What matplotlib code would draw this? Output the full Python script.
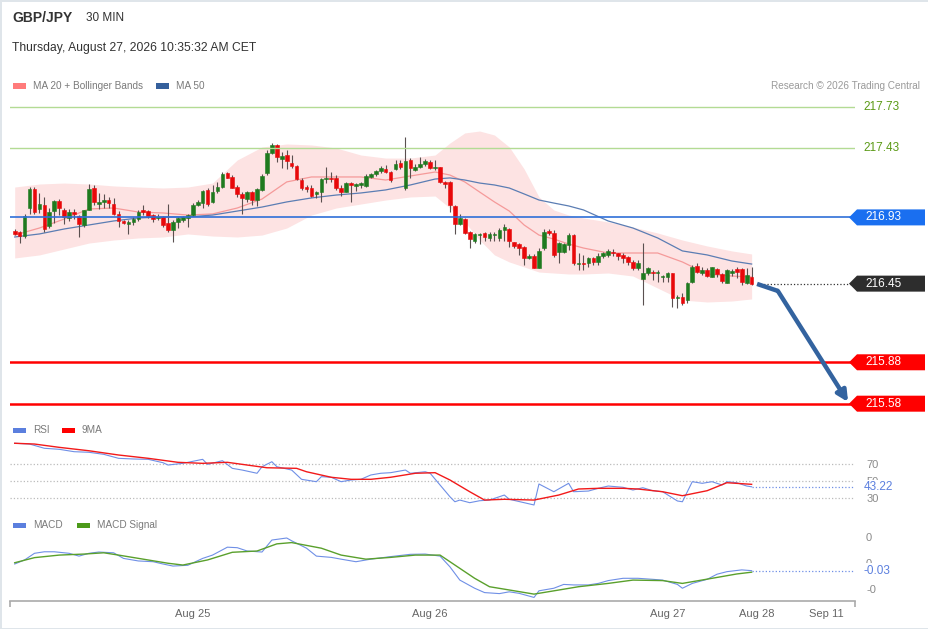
import matplotlib
matplotlib.use('Agg')
import matplotlib.pyplot as plt
from matplotlib.patches import Polygon, Rectangle
from matplotlib.transforms import IdentityTransform
from matplotlib.ticker import FormatStrFormatter
import numpy as np

plt.rcParams['font.family'] = ['Liberation Sans', 'DejaVu Sans']

# ---- candles (30 min GBP/JPY) ----
opens = np.array([
    216.831, 216.824, 216.795, 216.998, 217.136, 216.991, 217.020, 216.868, 216.976, 217.049,
    216.984, 216.926, 216.969, 216.940, 216.875, 216.984, 217.143, 217.027, 217.042, 217.056,
    217.027, 216.955, 216.904, 216.882, 216.897, 216.918, 216.984, 216.976, 216.947, 216.926,
    216.933, 216.889, 216.839, 216.897, 216.911, 216.926, 216.947, 217.020, 217.034, 217.129,
    217.042, 217.121, 217.150, 217.252, 217.223, 217.150, 217.100, 217.063, 217.114, 217.056,
    217.129, 217.252, 217.397, 217.455, 217.353, 217.382, 217.324, 217.302, 217.201, 217.150,
    217.143, 217.100, 217.114, 217.208, 217.216, 217.216, 217.143, 217.114, 217.179, 217.158,
    217.165, 217.158, 217.223, 217.244, 217.266, 217.281, 217.259, 217.281, 217.324, 217.143,
    217.346, 217.273, 217.295, 217.317, 217.331, 217.288, 217.295, 217.187, 217.187, 217.013,
    216.882, 216.918, 216.824, 216.759, 216.802, 216.817, 216.781, 216.802, 216.781, 216.839,
    216.846, 216.752, 216.737, 216.716, 216.636, 216.650, 216.563, 216.708, 216.831, 216.817,
    216.679, 216.679, 216.730, 216.802, 216.592, 216.600, 216.600, 216.636, 216.607, 216.650,
    216.658, 216.679, 216.672, 216.658, 216.643, 216.607, 216.563, 216.484, 216.527, 216.534,
    216.527, 216.498, 216.498, 216.527, 216.346, 216.353, 216.331, 216.462, 216.578, 216.527,
    216.549, 216.498, 216.556, 216.520, 216.455, 216.527, 216.556, 216.556, 216.455, 216.498])
highs = np.array([
    216.846, 216.831, 216.955, 217.150, 217.150, 217.107, 217.078, 216.998, 217.056, 217.063,
    216.998, 216.991, 216.991, 216.947, 216.984, 217.172, 217.165, 217.107, 217.100, 217.078,
    217.071, 216.976, 216.911, 216.911, 216.933, 216.984, 217.020, 216.984, 216.955, 216.955,
    216.940, 217.027, 216.911, 216.933, 216.940, 216.955, 217.034, 217.056, 217.129, 217.143,
    217.165, 217.187, 217.259, 217.259, 217.237, 217.165, 217.114, 217.121, 217.121, 217.143,
    217.244, 217.418, 217.469, 217.462, 217.404, 217.418, 217.382, 217.310, 217.216, 217.165,
    217.165, 217.121, 217.216, 217.295, 217.259, 217.237, 217.165, 217.187, 217.187, 217.179,
    217.187, 217.244, 217.252, 217.273, 217.302, 217.310, 217.266, 217.346, 217.346, 217.513,
    217.360, 217.317, 217.368, 217.353, 217.346, 217.346, 217.295, 217.194, 217.194, 217.020,
    216.955, 216.926, 216.831, 216.817, 216.817, 216.824, 216.824, 216.824, 216.853, 216.882,
    216.853, 216.752, 216.744, 216.723, 216.665, 216.665, 216.708, 216.846, 216.846, 216.839,
    216.752, 216.744, 216.817, 216.810, 216.672, 216.658, 216.643, 216.643, 216.672, 216.679,
    216.701, 216.701, 216.672, 216.672, 216.650, 216.621, 216.621, 216.744, 216.571, 216.549,
    216.549, 216.513, 216.534, 216.527, 216.368, 216.382, 216.462, 216.585, 216.600, 216.571,
    216.563, 216.571, 216.563, 216.527, 216.556, 216.556, 216.571, 216.563, 216.563, 216.571])
lows = np.array([
    216.802, 216.744, 216.781, 216.955, 216.955, 216.962, 216.824, 216.853, 216.889, 216.947,
    216.882, 216.904, 216.918, 216.788, 216.860, 216.984, 217.020, 216.991, 216.998, 216.998,
    216.947, 216.860, 216.882, 216.810, 216.875, 216.904, 216.947, 216.926, 216.897, 216.911,
    216.860, 216.824, 216.752, 216.853, 216.897, 216.860, 216.940, 217.013, 216.998, 217.013,
    217.034, 217.107, 217.143, 217.216, 217.143, 217.078, 216.955, 217.042, 217.020, 217.013,
    217.121, 217.237, 217.389, 217.331, 217.288, 217.281, 217.288, 217.201, 217.129, 217.114,
    217.078, 217.071, 217.042, 217.179, 217.187, 217.129, 217.085, 217.114, 217.042, 217.121,
    217.143, 217.150, 217.216, 217.230, 217.252, 217.252, 217.187, 217.273, 217.281, 217.129,
    217.216, 217.266, 217.288, 217.302, 217.281, 217.273, 217.179, 217.143, 216.969, 216.810,
    216.875, 216.810, 216.708, 216.744, 216.737, 216.759, 216.759, 216.759, 216.759, 216.759,
    216.716, 216.708, 216.658, 216.585, 216.629, 216.563, 216.563, 216.694, 216.802, 216.643,
    216.600, 216.672, 216.694, 216.585, 216.549, 216.549, 216.571, 216.585, 216.585, 216.636,
    216.643, 216.650, 216.621, 216.600, 216.585, 216.549, 216.549, 216.295, 216.513, 216.476,
    216.462, 216.462, 216.462, 216.281, 216.273, 216.295, 216.310, 216.455, 216.527, 216.513,
    216.498, 216.498, 216.498, 216.455, 216.455, 216.505, 216.491, 216.440, 216.448, 216.440])
closes = np.array([
    216.810, 216.795, 216.940, 217.136, 216.969, 217.027, 216.846, 216.969, 217.049, 216.998,
    216.933, 216.969, 216.955, 216.882, 216.984, 217.136, 217.042, 217.042, 217.056, 217.034,
    216.955, 216.904, 216.889, 216.897, 216.918, 216.969, 216.969, 216.940, 216.918, 216.933,
    216.875, 216.839, 216.897, 216.926, 216.933, 216.947, 217.020, 217.042, 217.121, 217.027,
    217.114, 217.150, 217.244, 217.216, 217.143, 217.100, 217.071, 217.114, 217.056, 217.136,
    217.230, 217.397, 217.455, 217.368, 217.375, 217.339, 217.302, 217.208, 217.143, 217.136,
    217.085, 217.114, 217.208, 217.216, 217.208, 217.143, 217.114, 217.179, 217.165, 217.172,
    217.179, 217.230, 217.244, 217.266, 217.288, 217.259, 217.201, 217.317, 217.295, 217.339,
    217.288, 217.295, 217.317, 217.339, 217.288, 217.295, 217.187, 217.172, 217.020, 216.882,
    216.926, 216.817, 216.773, 216.810, 216.810, 216.788, 216.810, 216.810, 216.839, 216.860,
    216.759, 216.723, 216.708, 216.636, 216.650, 216.563, 216.687, 216.824, 216.817, 216.658,
    216.744, 216.737, 216.802, 216.600, 216.600, 216.592, 216.636, 216.607, 216.650, 216.672,
    216.687, 216.672, 216.650, 216.636, 216.607, 216.563, 216.600, 216.527, 216.563, 216.527,
    216.534, 216.505, 216.527, 216.346, 216.353, 216.310, 216.455, 216.571, 216.534, 216.549,
    216.505, 216.571, 216.520, 216.469, 216.549, 216.542, 216.534, 216.462, 216.513, 216.448])

# ---- MA 20, Bollinger bands, MA 50 (read at these candle numbers) ----
band_idx = [0, 5, 10, 15, 20, 25, 30, 35, 40, 45, 50, 55, 60, 65, 70, 75, 80, 85, 88, 91,
            94, 97, 100, 103, 106, 109, 112, 115, 120, 125, 130, 135, 140, 145, 149]
ma20 = [216.802, 216.853, 216.918, 216.991, 216.998, 216.969, 216.962, 216.947, 216.955, 216.998,
        217.063, 217.187, 217.223, 217.223, 217.223, 217.201, 217.230, 217.259, 217.237, 217.187,
        217.114, 217.042, 216.976, 216.875, 216.802, 216.773, 216.737, 216.708, 216.672, 216.672,
        216.672, 216.607, 216.520, 216.505, 216.498]
ma50 = [216.788, 216.810, 216.846, 216.875, 216.904, 216.926, 216.933, 216.933, 216.947, 216.976,
        217.005, 217.042, 217.071, 217.092, 217.107, 217.129, 217.165, 217.208, 217.216, 217.201,
        217.179, 217.165, 217.143, 217.100, 217.056, 217.034, 217.013, 216.984, 216.904, 216.853,
        216.781, 216.687, 216.658, 216.614, 216.592]
bb_upper = [217.150, 217.172, 217.179, 217.172, 217.158, 217.150, 217.143, 217.150, 217.179, 217.346,
            217.440, 217.462, 217.455, 217.433, 217.382, 217.360, 217.360, 217.382, 217.469, 217.542,
            217.556, 217.527, 217.440, 217.281, 217.078, 216.984, 216.947, 216.926, 216.897, 216.860,
            216.817, 216.766, 216.723, 216.687, 216.665]
bb_lower = [216.636, 216.658, 216.701, 216.744, 216.766, 216.781, 216.788, 216.810, 216.795, 216.788,
            216.802, 216.853, 216.947, 216.998, 217.027, 217.056, 217.078, 217.085, 216.998, 216.897,
            216.766, 216.658, 216.607, 216.571, 216.534, 216.527, 216.520, 216.520, 216.527, 216.505,
            216.418, 216.331, 216.317, 216.324, 216.339]

# ---- levels ----
resistances = [217.73, 217.43]
pivot = 216.93
last_price = 216.45
supports = [215.88, 215.58]
forecast_idx = [150.1, 154.3, 168.5]
forecast_price = [216.448, 216.397, 215.592]

# ---- RSI and its 9 period average ----
rsi_idx = [0, 3, 6, 9, 12, 15, 18, 21, 24, 27, 30, 31, 34, 38, 39, 42, 44, 46, 49, 50,
           52, 53, 56, 58, 61, 62, 64, 66, 68, 70, 72, 74, 76, 79, 80, 83, 84, 86, 88, 89,
           90, 92, 94, 96, 99, 100, 103, 105, 106, 109, 112, 113, 116, 118, 120, 123, 125, 127, 129, 131,
           134, 135, 137, 139, 141, 143, 144, 146, 148, 149]
rsi = [94.4, 93.5, 88.5, 87.3, 84.5, 83.8, 81.4, 76.7, 75.9, 75.5, 71.5, 68.8, 70.8, 75.5, 69.6, 73.9, 64.9, 62.9, 59.1, 66.8,
       72.7, 66.8, 62.9, 52.0, 49.2, 55.1, 54.4, 49.2, 51.2, 52.0, 57.1, 59.1, 59.8, 62.9, 59.1, 60.9, 59.1, 45.3, 31.5, 25.6,
       27.6, 24.5, 26.8, 27.6, 33.5, 28.5, 24.5, 21.8, 46.5, 37.4, 47.3, 37.4, 38.2, 41.4, 44.1, 42.6, 39.4, 42.1, 38.6, 37.4,
       26.5, 25.6, 49.2, 47.3, 49.2, 45.3, 49.2, 48.0, 44.1, 43.22]
rsi_ma_idx = [0, 4, 9, 15, 21, 27, 33, 38, 43, 47, 51, 57, 59, 64, 68, 72, 76, 81, 85, 88,
              92, 95, 99, 105, 110, 114, 118, 123, 126, 131, 135, 140, 144, 149]
rsi_ma = [94.4, 93.5, 89.6, 85.6, 80.6, 76.7, 72.0, 70.8, 72.0, 68.8, 65.6, 64.9, 60.9, 54.4, 52.0, 52.0, 54.4, 59.1, 59.8, 51.2,
          37.4, 27.6, 28.5, 27.6, 33.5, 40.6, 41.4, 41.4, 40.6, 37.4, 32.7, 38.6, 48.0, 46.1]

# ---- MACD ----
macd_idx = [0, 2, 4, 6, 8, 11, 13, 15, 17, 20, 22, 25, 28, 30, 32, 35, 38, 40, 43, 45,
            47, 50, 52, 55, 56, 59, 61, 64, 66, 69, 72, 76, 80, 83, 86, 88, 90, 93, 95, 98,
            100, 102, 105, 106, 109, 111, 113, 116, 118, 120, 123, 126, 129, 131, 134, 135, 137, 140, 142, 144,
            147, 149]
macd = [-0.004, 0.012, 0.038, 0.044, 0.044, 0.038, 0.027, 0.038, 0.043, 0.040,
        0.018, 0.008, 0.005, -0.004, -0.012, -0.009, 0.018, 0.031, 0.062, 0.060,
        0.047, 0.043, 0.090, 0.098, 0.087, 0.058, 0.027, 0.022, 0.015, 0.005,
        0.015, 0.025, 0.034, 0.035, 0.027, -0.015, -0.067, -0.099, -0.116, -0.120,
        -0.113, -0.119, -0.135, -0.109, -0.099, -0.084, -0.086, -0.086, -0.080, -0.069,
        -0.060, -0.060, -0.064, -0.067, -0.084, -0.099, -0.080, -0.064, -0.044, -0.034,
        -0.027, -0.030]
signal_idx = [0, 4, 9, 14, 18, 21, 26, 31, 34, 39, 44, 49, 53, 56, 62, 66, 71, 76, 81, 86,
              89, 93, 96, 101, 105, 110, 114, 120, 125, 131, 135, 141, 146, 149]
signal = [0.001, 0.021, 0.031, 0.035, 0.040, 0.031, 0.015, -0.001, -0.008, 0.012,
          0.042, 0.047, 0.075, 0.080, 0.058, 0.031, 0.015, 0.022, 0.031, 0.031,
          -0.008, -0.060, -0.093, -0.109, -0.122, -0.106, -0.093, -0.080, -0.067, -0.069,
          -0.080, -0.060, -0.043, -0.036]

date_labels = ['Aug 25', 'Aug 26', 'Aug 27', 'Aug 28', 'Sep 11']
date_pos = [36, 84, 132, 150, 164]

# ---- layout helpers (pixel positions on a 929x629 canvas) ----
W, H = 929, 629


def fx(x):
    return x / W


def fy(y):
    return 1 - y / H


def axes_at(fig, x0, y0, x1, y1):
    a = fig.add_axes([fx(x0), fy(y1), (x1 - x0) / W, (y1 - y0) / H])
    for s in a.spines.values():
        s.set_visible(False)
    a.set_xticks([])
    a.set_yticks([])
    a.patch.set_alpha(0)
    return a


XLIM = (-0.95, 169.9)
GREEN_C = '#1f7a1f'
RED_C = '#e8080a'
GRAY_T = '#8a8a8a'

fig = plt.figure(figsize=(9.29, 6.29), dpi=100)
fig.patch.set_facecolor('white')
fig.patch.set_edgecolor('#dfe5ea')
fig.patch.set_linewidth(2)

# header
fig.text(fx(12), fy(18), 'GBP/JPY', fontsize=10, fontweight='bold', color='#333333', va='center')
fig.text(fx(86), fy(18), '30 MIN', fontsize=8.5, color='#333333', va='center')
fig.text(fx(12), fy(48), 'Thursday, August 27, 2026 10:35:32 AM CET', fontsize=8.7, color='#333333', va='center')


def legend_item(x, y, color, label):
    fig.patches.append(Rectangle((fx(x), fy(y + 2.5)), 13 / W, 5 / H, transform=fig.transFigure,
                                 color=color, lw=0))
    fig.text(fx(x + 20), fy(y), label, fontsize=7.2, color='#7a7a7a', va='center')


legend_item(13, 86, '#ff7b7b', 'MA 20 + Bollinger Bands')
legend_item(156, 86, '#35609c', 'MA 50')
fig.text(fx(920), fy(86), 'Research \u00a9 2026 Trading Central', fontsize=7.2, color='#9a9a9a',
         va='center', ha='right')

# ---- price panel ----
ax = axes_at(fig, 10, 95, 855, 415)
ax.set_xlim(*XLIM)
ax.set_ylim(215.498, 217.817)

ax.fill_between(band_idx, bb_lower, bb_upper, color='#fde3e3', lw=0, zorder=0)
ax.plot(band_idx, ma20, color='#f59a9a', lw=0.9, zorder=1)
ax.plot(band_idx, ma50, color='#5b7db3', lw=0.9, zorder=1)

idx = np.arange(len(closes))
up = closes >= opens
ax.vlines(idx, lows, highs, color='#5a5050', lw=0.8, zorder=2)
body_col = np.where(up, GREEN_C, RED_C)
ax.bar(idx, closes - opens, bottom=opens, width=0.74, color=body_col, edgecolor=body_col,
       lw=0.4, zorder=3)

for r in resistances:
    ax.axhline(r, color='#b3db94', lw=1, zorder=4)
ax.axhline(pivot, color='#2f6fd8', lw=1.2, zorder=4)
for s in supports:
    ax.axhline(s, color='#ff0000', lw=1.8, zorder=4)
ax.plot([idx[-1] + 1, XLIM[1]], [last_price, last_price], ls=':', color='#333333', lw=0.9, zorder=4)

ax.plot(forecast_idx[:2], forecast_price[:2], color='#33639f', lw=3.2, solid_capstyle='butt', zorder=5)
ax.annotate('', xy=(forecast_idx[2], forecast_price[2]), xytext=(forecast_idx[1], forecast_price[1]),
            arrowprops=dict(arrowstyle='-|>', color='#33639f', lw=3.2, mutation_scale=16,
                            shrinkA=0, shrinkB=0), zorder=5)


def tag(value, color):
    ypix = ax.transData.transform((0, value))[1]
    h = 8
    verts = [(849, ypix), (857, ypix + h), (925, ypix + h), (925, ypix - h), (857, ypix - h)]
    fig.add_artist(Polygon(verts, closed=True, color=color, lw=0, transform=IdentityTransform()))
    fig.text(fx(865), ypix / H, f'{value:.2f}', fontsize=8.5, color='white', va='center')


for r in resistances:
    ax.text(1.01, r, f'{r:.2f}', transform=ax.get_yaxis_transform(), fontsize=8.5,
            color='#5b9a16', va='center')
tag(pivot, '#1a6ff0')
tag(last_price, '#2d2d2d')
for s in supports:
    tag(s, '#ff0000')

# ---- RSI panel ----
legend_item(13, 430, '#5b7fde', 'RSI')
legend_item(62, 430, '#ff0000', '9MA')
ar = axes_at(fig, 10, 438, 855, 510)
ar.set_xlim(*XLIM)
ar.set_ylim(15.9, 100.6)
for g in (70, 50, 30):
    ar.axhline(g, color='#bbbbbb', ls=':', lw=0.9, zorder=0)
ar.plot(rsi_idx, rsi, color='#6f8fe6', lw=0.8)
ar.plot(rsi_ma_idx, rsi_ma, color='#f21a1a', lw=1.0)
ar.yaxis.tick_right()
ar.set_yticks([70, 50, 30])
ar.tick_params(axis='y', length=0, pad=8, labelsize=8, labelcolor=GRAY_T)
ar.plot([rsi_idx[-1], XLIM[1]], [rsi[-1], rsi[-1]], ls=':', color='#6f8fe6', lw=0.9)
ar.text(1.0105, rsi[-1], f'{rsi[-1]:.2f}', transform=ar.get_yaxis_transform(), fontsize=8.5,
        color='#5b7fde', va='center', zorder=10,
        bbox=dict(boxstyle='square,pad=0.1', fc='white', ec='none'))

# ---- MACD panel ----
legend_item(13, 525, '#5b7fde', 'MACD')
legend_item(77, 525, '#4c9a1a', 'MACD Signal')
am = axes_at(fig, 10, 533, 855, 601)
am.set_xlim(*XLIM)
am.set_ylim(-0.149, 0.1176)
am.plot(macd_idx, macd, color='#6f8fe6', lw=0.8)
am.plot(signal_idx, signal, color='#5aa02c', lw=1.0)
am.yaxis.tick_right()
am.set_yticks([0.1, 0.0, -0.1])
am.yaxis.set_major_formatter(FormatStrFormatter('%.0f'))
am.tick_params(axis='y', length=0, pad=8, labelsize=8, labelcolor=GRAY_T)
am.plot([macd_idx[-1], XLIM[1]], [macd[-1], macd[-1]], ls=':', color='#6f8fe6', lw=0.9)
am.text(1.0105, macd[-1], f'{macd[-1]:.2f}', transform=am.get_yaxis_transform(), fontsize=8.5,
        color='#5b7fde', va='center', zorder=10,
        bbox=dict(boxstyle='square,pad=0.1', fc='white', ec='none'))

am.spines['bottom'].set_visible(True)
am.spines['bottom'].set_color('#aaaaaa')
am.spines['bottom'].set_linewidth(1.2)
am.set_xticks(date_pos)
am.set_xticklabels(date_labels)
am.set_xticks([XLIM[0] + 0.1, XLIM[1] - 0.1], minor=True)
am.tick_params(axis='x', which='major', length=0, pad=6, labelsize=8, labelcolor='#666666')
am.tick_params(axis='x', which='minor', length=4, width=1.2, color='#aaaaaa')

fig.savefig('out.png', dpi=100)
